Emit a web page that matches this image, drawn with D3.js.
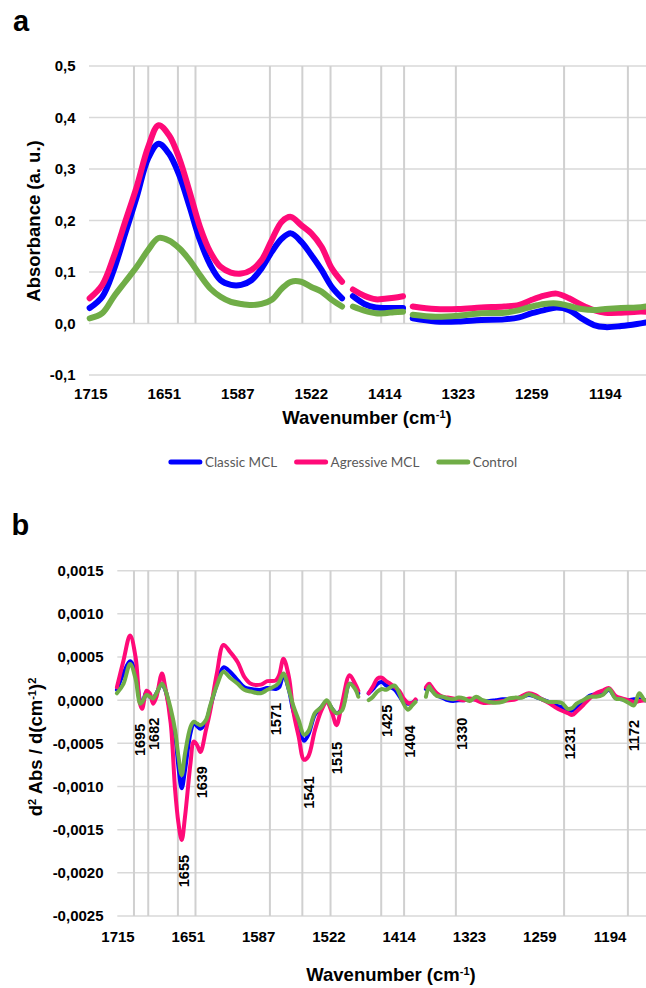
<!DOCTYPE html>
<html>
<head>
<meta charset="utf-8">
<script src="https://cdn.jsdelivr.net/npm/d3@7"></script>
<style>
  body { margin: 0; background: #fff; }
  svg { display: block; }
</style>
</head>
<body>
<div id="chart"></div>
<script>
// category axis labels, shared by both panels
const xTickLabels = [1715, 1651, 1587, 1522, 1414, 1323, 1259, 1194];
// wavenumber ranges left out of the spectra
const gaps = [[1495, 1442], [1398, 1363]];
// assigned bands (panel b) and where their labels sit (in d2 units)
const peaks = [1695, 1682, 1655, 1639, 1571, 1541, 1515, 1425, 1404, 1330, 1231, 1172];
const peakLabelY = [-0.00046, -0.00039, -0.00198, -0.00095, -0.00022, -0.00107, -0.00067, -0.00024, -0.00048, -0.00039, -0.0005, -0.00041];

const seriesNames = ["Classic MCL", "Agressive MCL", "Control"];
const seriesColors = ["#0000ff", "#ff0a78", "#70ad47"];

// panel a: absorbance
const absTicks = [-0.1, 0, 0.1, 0.2, 0.3, 0.4, 0.5];
const absWn = [1716, 1705, 1695, 1685, 1675, 1665, 1656, 1647, 1638, 1629, 1620, 1611, 1602, 1593, 1584, 1575, 1566, 1557, 1548, 1540, 1531, 1522, 1513, 1504, 1495,
  null, 1442, 1432, 1422, 1414, 1406, 1398,
  null, 1363, 1343, 1323, 1303, 1283, 1270, 1259, 1248, 1237, 1226, 1215, 1204, 1194, 1180, 1166, 1158];
const absClassic = [0.030, 0.052, 0.104, 0.175, 0.246, 0.321, 0.349, 0.330, 0.288, 0.227, 0.162, 0.114, 0.084, 0.075, 0.075, 0.084, 0.107, 0.139, 0.165, 0.175, 0.159, 0.133, 0.104, 0.071, 0.049,
  null, 0.053, 0.038, 0.031, 0.030, 0.030, 0.030,
  null, 0.010, 0.004, 0.004, 0.007, 0.008, 0.012, 0.020, 0.026, 0.031, 0.026, 0.010, -0.003, -0.007, -0.005, -0.001, 0.002];
const absAgressive = [0.049, 0.075, 0.130, 0.198, 0.266, 0.343, 0.385, 0.366, 0.321, 0.256, 0.188, 0.139, 0.110, 0.099, 0.097, 0.104, 0.123, 0.162, 0.198, 0.207, 0.191, 0.175, 0.149, 0.107, 0.081,
  null, 0.066, 0.054, 0.047, 0.048, 0.050, 0.053,
  null, 0.033, 0.028, 0.028, 0.031, 0.033, 0.036, 0.046, 0.054, 0.058, 0.049, 0.036, 0.026, 0.021, 0.021, 0.023, 0.023];
const absControl = [0.010, 0.020, 0.052, 0.081, 0.110, 0.143, 0.166, 0.161, 0.146, 0.123, 0.094, 0.068, 0.052, 0.042, 0.038, 0.036, 0.038, 0.046, 0.068, 0.081, 0.081, 0.071, 0.062, 0.046, 0.033,
  null, 0.033, 0.025, 0.020, 0.020, 0.022, 0.023,
  null, 0.017, 0.013, 0.015, 0.020, 0.021, 0.026, 0.033, 0.038, 0.039, 0.034, 0.028, 0.026, 0.028, 0.030, 0.031, 0.033];

// panel b: second derivative
const d2Ticks = [-0.0025, -0.002, -0.0015, -0.001, -0.0005, 0, 0.0005, 0.001, 0.0015];
const d2Wn = [1716, 1710, 1704, 1699, 1695, 1693, 1689, 1686, 1683, 1680, 1675, 1672, 1667, 1663, 1660, 1657, 1654, 1649, 1646, 1643, 1640, 1635, 1631, 1625, 1619, 1613, 1606, 1600, 1594, 1585, 1579, 1571, 1568, 1564, 1559, 1555, 1550, 1545, 1541, 1535, 1529, 1524, 1519, 1515, 1510, 1503, 1498, 1495,
  null, 1442, 1438, 1434, 1430, 1426, 1422, 1418, 1414, 1410, 1406, 1402, 1399,
  null, 1363, 1360, 1358, 1353, 1348, 1343, 1338, 1333, 1328, 1323, 1317, 1311, 1305, 1299, 1293, 1287, 1281, 1275, 1269, 1263, 1257, 1251, 1245, 1239, 1233, 1229, 1225, 1219, 1213, 1207, 1201, 1195, 1189, 1183, 1177, 1172, 1167, 1162, 1158];
const d2Classic = [0.00012, 0.00031, 0.00045, 0.00031, 0.0, -0.00004, 0.0001, 0.00004, 0.00002, 0.00008, 0.00019, 0.00012, -0.00015, -0.0004, -0.00077, -0.00102, -0.00081, -0.00038, -0.00027, -0.0003, -0.00033, -0.00025, -0.00008, 0.00019, 0.00038, 0.00033, 0.00023, 0.00015, 0.00013, 0.00012, 0.00014, 0.00013, 0.00015, 0.00029, 0.00012, -0.00012, -0.00031, -0.00047, -0.0004, -0.00017, -0.00008, -0.00002, -0.0001, -0.00015, -0.0001, 0.00019, 0.00015, 0.00008,
  null, 0.00008, 0.00013, 0.00019, 0.00021, 0.00017, 0.00015, 0.00012, 0.00005, -0.00002, -0.00004, -0.00003, 0.0,
  null, 0.00013, 0.00015, 0.00012, 0.00006, 0.00003, 0.0, -0.00001, 0.0, 0.0, 0.00001, 0.00001, -0.00001, -0.00001, 0.0, 0.00001, 0.00001, 0.00002, 0.00004, 0.00006, 0.00004, 0.00001, -0.00002, -0.00006, -0.00008, -0.00012, -0.00012, -0.00008, -0.00002, 0.00005, 0.00007, 0.00007, 0.00012, 0.00003, 0.00001, 0.0, 0.00001, 0.00001, 0.0, 0.0];
const d2Agressive = [0.00015, 0.00046, 0.00075, 0.0005, -0.00004, -0.0001, 0.00011, 0.00008, -0.00004, 0.00004, 0.00031, 0.00015, -0.00027, -0.00104, -0.00142, -0.00162, -0.00135, -0.00073, -0.00048, -0.00052, -0.0006, -0.00035, -0.00012, 0.00031, 0.00064, 0.00056, 0.00044, 0.00027, 0.00019, 0.00018, 0.00022, 0.00023, 0.00029, 0.00048, 0.00027, -0.00012, -0.00042, -0.00069, -0.00065, -0.00035, -0.00012, -0.00002, -0.00015, -0.00029, -0.00004, 0.00029, 0.00019, 0.00011,
  null, 0.00008, 0.00016, 0.00025, 0.00026, 0.00022, 0.00019, 0.00015, 0.00011, 0.00002, -0.00003, -0.00003, 0.00001,
  null, 0.00015, 0.00019, 0.00016, 0.00008, 0.00004, 0.00003, 0.00002, 0.00001, 0.0, 0.00002, 0.0, -0.00003, -0.00003, -0.00002, -0.00001, 0.0, 0.00001, 0.00005, 0.00008, 0.00006, 0.00001, -0.00003, -0.00008, -0.00012, -0.00015, -0.00017, -0.00013, -0.00006, 0.00002, 0.00008, 0.00011, 0.00014, 0.00005, 0.00002, 0.0, -0.00002, -0.00001, 0.0, 0.0];
const d2Control = [0.00008, 0.00019, 0.00042, 0.00025, -0.00004, -0.00002, 0.00006, 0.00004, 0.00002, 0.00008, 0.00019, 0.00012, -0.0001, -0.00035, -0.00065, -0.00087, -0.00062, -0.00031, -0.00025, -0.00027, -0.00029, -0.00023, -0.00006, 0.00017, 0.00033, 0.00026, 0.00019, 0.00012, 0.0001, 0.00008, 0.00012, 0.00017, 0.00021, 0.00031, 0.00012, -0.00006, -0.00023, -0.0004, -0.00036, -0.00015, -0.00008, 0.0, -0.0001, -0.00015, -0.00012, 0.00019, 0.00013, 0.00004,
  null, 0.0, 0.00004, 0.0001, 0.00013, 0.00012, 0.00015, 0.00017, 0.00008, -0.00004, -0.00011, -0.00006, -0.00002,
  null, 0.00004, 0.00016, 0.00012, 0.00005, 0.00004, 0.00002, 0.00001, 0.00003, 0.00002, -0.00001, 0.00004, 0.0, -0.00002, -0.00003, -0.00002, 0.00002, 0.00003, 0.00003, 0.00007, 0.00004, 0.00001, -0.00002, -0.00002, -0.00003, -0.0001, -0.00009, -0.00004, 0.0, 0.00004, 0.00004, 0.00006, 0.00013, 0.00002, 0.00001, -0.00003, -0.00006, 0.00008, 0.0, 0.0];

const W = 646, H = 988;
const axisFont = "'Liberation Sans', Arial, sans-serif";
const grid = "#d9d9d9";

const svg = d3.select("#chart").append("svg")
    .attr("width", W)
    .attr("height", H)
    .style("background", "#fff");

// Excel-style category axis: one label step ~ 64.5 cm-1, the removed ranges squeeze the axis
const perStep = 64.5;
const stepOf = d3.scaleLinear()
    .domain([1715, 1651, 1587, 1522, gaps[0][0], gaps[0][1], 1414, gaps[1][0], gaps[1][1], 1323, 1259, 1194])
    .range([0, 1, 2, 3,
        3 + (1522 - gaps[0][0]) / perStep, 4 - (gaps[0][1] - 1414) / perStep, 4,
        4 + (1414 - gaps[1][0]) / perStep, 5 - (gaps[1][1] - 1323) / perStep, 5, 6, 7]);

const fmt = d3.formatLocale({decimal: ",", thousands: ".", grouping: [3], currency: ["", ""], minus: "-"});

// panel b scale is also used for the band guides drawn through both panels
const stepB = d3.scaleLinear().domain([0, 7]).range([118, 118 + 7 * 70.3]);
const xB = w => stepB(stepOf(w));

function drawPanel(cfg) {
    const g = svg.append("g");
    const stepX = d3.scaleLinear().domain([0, 7]).range([cfg.x0, cfg.x0 + 7 * cfg.stepW]);
    const x = w => stepX(stepOf(w));
    const y = d3.scaleLinear().domain(cfg.yDomain).range(cfg.yRange);

    // horizontal grid
    g.selectAll(".hgrid").data(cfg.yTicks).join("line")
        .attr("x1", cfg.left).attr("x2", W)
        .attr("y1", d => y(d)).attr("y2", d => y(d))
        .attr("stroke", grid).attr("stroke-width", 1.5);

    // band guides
    g.selectAll(".vgrid").data(peaks).join("line")
        .attr("x1", d => xB(d) - 6).attr("x2", d => xB(d) - 6)
        .attr("y1", y(cfg.guideTop)).attr("y2", y(cfg.guideBottom))
        .attr("stroke", "#d0d0d0").attr("stroke-width", 2);

    // y tick labels
    g.selectAll(".ylab").data(cfg.yTicks).join("text")
        .attr("x", cfg.yLabelX).attr("y", d => y(d)).attr("dy", "0.36em")
        .attr("text-anchor", "end")
        .style("font", "bold 15px " + axisFont)
        .text(d => fmt.format(cfg.yFormat)(d));

    // x tick labels
    g.selectAll(".xlab").data(xTickLabels).join("text")
        .attr("x", (d, i) => stepX(i)).attr("y", cfg.xLabelY)
        .attr("text-anchor", "middle")
        .style("font", "bold 15px " + axisFont)
        .text(d => d);

    // spectra
    const line = d3.line()
        .defined(d => d.v !== null)
        .x(d => x(d.w)).y(d => y(d.v))
        .curve(d3.curveCatmullRom.alpha(0.5));
    cfg.series.forEach((vals, i) => {
        const pts = cfg.wn.map((w, j) => ({w: w, v: vals[j]}));
        g.append("path")
            .datum(pts)
            .attr("d", line)
            .attr("fill", "none")
            .attr("stroke", seriesColors[i])
            .attr("stroke-width", cfg.lineW)
            .attr("stroke-linecap", "round")
            .attr("stroke-linejoin", "round");
    });

    // axis titles
    const yt = g.append("text")
        .attr("transform", "translate(" + cfg.yTitle[0] + "," + cfg.yTitle[1] + ") rotate(-90)")
        .attr("text-anchor", "middle").attr("dy", "0.35em")
        .style("font", "bold 18.5px " + axisFont);
    cfg.yTitleParts.forEach(p => {
        yt.append("tspan").text(p[0])
            .attr("baseline-shift", p[1] ? "super" : null)
            .style("font-size", p[1] ? "11px" : null);
    });
    const xt = g.append("text")
        .attr("x", cfg.xTitle[0]).attr("y", cfg.xTitle[1])
        .attr("text-anchor", "middle").attr("dy", "0.35em")
        .style("font", "bold 18.5px " + axisFont);
    xt.append("tspan").text("Wavenumber (cm");
    xt.append("tspan").text("-1").attr("baseline-shift", "super").style("font-size", "11px");
    xt.append("tspan").text(")");

    // panel letter
    g.append("text")
        .attr("x", cfg.letter[1]).attr("y", cfg.letter[2])
        .style("font", "bold 29px " + axisFont)
        .text(cfg.letter[0]);

    return {x: x, y: y, g: g};
}

drawPanel({
    x0: 90.8, stepW: 73.5, left: 89,
    yDomain: [-0.1, 0.5], yRange: [375, 66], yTicks: absTicks, yFormat: ".1f",
    guideTop: 0.5, guideBottom: 0,
    yLabelX: 75.5, xLabelY: 398.5,
    wn: absWn, series: [absClassic, absAgressive, absControl], lineW: 6,
    yTitle: [34, 221], yTitleParts: [["Absorbance (a. u.)", false]],
    xTitle: [367, 418],
    letter: ["a", 13, 30.5]
});

const pb = drawPanel({
    x0: 118, stepW: 70.3, left: 117.3,
    yDomain: [-0.0025, 0.0015], yRange: [916, 570.7], yTicks: d2Ticks, yFormat: ".4f",
    guideTop: 0.0015, guideBottom: -0.0025,
    yLabelX: 103.5, xLabelY: 941.5,
    wn: d2Wn, series: [d2Classic, d2Agressive, d2Control], lineW: 4,
    yTitle: [36, 747], yTitleParts: [["d", false], ["2", true], [" Abs / d(cm", false], ["-1", true], [")", false], ["2", true]],
    xTitle: [391, 975],
    letter: ["b", 11.5, 535]
});

// band labels on panel b
pb.g.selectAll(".plab").data(peaks).join("text")
    .attr("transform", (d, i) => "translate(" + xB(d) + "," + pb.y(peakLabelY[i]) + ") rotate(-90)")
    .attr("text-anchor", "middle").attr("dy", "0.36em")
    .style("font", "bold 14.5px " + axisFont)
    .text(d => d);

// legend between the panels
const legend = svg.append("g");
let lx = 0;
seriesNames.forEach((name, i) => {
    const item = legend.append("g").attr("transform", "translate(" + lx + ",0)");
    item.append("line")
        .attr("x1", 2).attr("x2", 31).attr("y1", 0).attr("y2", 0)
        .attr("stroke", seriesColors[i]).attr("stroke-width", 5)
        .attr("stroke-linecap", "round");
    const t = item.append("text")
        .attr("x", 36).attr("y", 0).attr("dy", "0.35em")
        .style("font", "13.5px Lato, 'Open Sans', sans-serif")
        .attr("fill", "#595959")
        .text(name);
    lx += 36 + t.node().getComputedTextLength() + 17.5;
});
legend.attr("transform", "translate(" + (343 - (lx - 17.5) / 2) + ",462)");
</script>
</body>
</html>
